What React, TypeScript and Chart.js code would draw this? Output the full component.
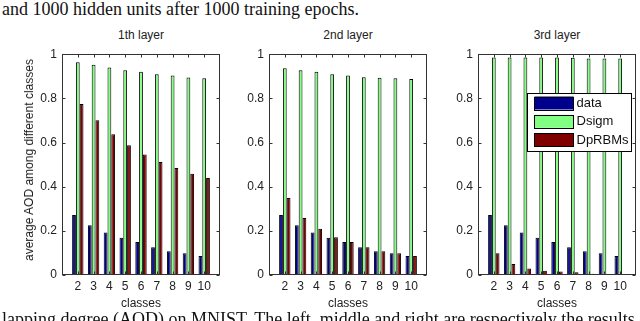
import React, { useEffect, useRef } from "react";
import { Chart, registerables } from "chart.js";

Chart.register(...registerables);

// ---- data ----
const classes = [2, 3, 4, 5, 6, 7, 8, 9, 10];
const classLabels = ["2", "3", "4", "5", "6", "7", "8", "9", "10"];
const yTickValues = [0, 0.2, 0.4, 0.6, 0.8, 1];
const yTickLabels = ["0", "0.2", "0.4", "0.6", "0.8", "1"];
const seriesNames = ["data", "Dsigm", "DpRBMs"];
const layerTitles = ["1th layer", "2nd layer", "3rd layer"];

const dataAOD = [0.272, 0.225, 0.193, 0.169, 0.149, 0.126, 0.108, 0.099, 0.086];

const dsigm1 = [0.963, 0.952, 0.94, 0.927, 0.92, 0.909, 0.904, 0.895, 0.891];
const dprbms1 = [0.774, 0.701, 0.638, 0.588, 0.546, 0.512, 0.485, 0.458, 0.439];

const dsigm2 = [0.936, 0.927, 0.92, 0.909, 0.904, 0.896, 0.893, 0.891, 0.888];
const dprbms2 = [0.349, 0.258, 0.209, 0.171, 0.149, 0.126, 0.108, 0.099, 0.086];

const dsigm3 = [0.985, 0.985, 0.985, 0.985, 0.985, 0.984, 0.98, 0.98, 0.98];
const dprbms3 = [0.098, 0.05, 0.029, 0.019, 0.016, 0.012, 0.006, 0.004, 0.004];

const panels = [
  [dataAOD, dsigm1, dprbms1],
  [dataAOD, dsigm2, dprbms2],
  [dataAOD, dsigm3, dprbms3],
];

const colors = ["#00008f", "#80ff80", "#800000"];

const topCaption = "and 1000 hidden units after 1000 training epochs.";
const bottomCaption =
  "lapping degree (AOD) on MNIST. The left, middle and right are respectively the results of the";
const yAxisTitle = "average AOD among different classes";
const xAxisTitle = "classes";

// ---- layout ----
const FRAME_LEFTS = [62, 269, 478];
const FRAME_W = 158;
const FRAME_TOP = 47;
const FRAME_BOTTOM = 275;
const YW = 40;
const XH = 22;
const PAD_T = 5;
const PAD_R = 5;
const SANS = '"Liberation Sans", Arial, Helvetica, sans-serif';
const SERIF = '"Liberation Serif", "Times New Roman", serif';
const TEXT = "#222";
const AXIS = "#333";

const framePlugin = {
  id: "matlabFrame",
  afterDatasetsDraw(chart: any) {
    const { ctx, chartArea: a, scales } = chart;
    const l = Math.round(a.left) + 0.5;
    const r = Math.round(a.right) - 0.5;
    const t = Math.round(a.top) + 0.5;
    const b = Math.round(a.bottom) - 0.5;
    ctx.save();
    ctx.strokeStyle = AXIS;
    ctx.lineWidth = 1;
    ctx.strokeRect(l, t, r - l, b - t);
    ctx.beginPath();
    yTickValues.forEach((v) => {
      const py = Math.round(scales.y.getPixelForValue(v)) + 0.5;
      ctx.moveTo(l, py);
      ctx.lineTo(l + 3, py);
      ctx.moveTo(r, py);
      ctx.lineTo(r - 3, py);
    });
    classes.forEach((c) => {
      const px = Math.round(scales.x.getPixelForValue(c)) + 0.5;
      ctx.moveTo(px, t);
      ctx.lineTo(px, t + 3);
      ctx.moveTo(px, b);
      ctx.lineTo(px, b - 3);
    });
    ctx.stroke();
    ctx.restore();
  },
};

const legendPlugin = {
  id: "matlabLegend",
  afterDraw(chart: any) {
    const { ctx, chartArea: a } = chart;
    const bx = Math.round(a.left) + 49.5;
    const by = Math.round(a.top) + 39.5;
    const bw = 104;
    const bh = 58;
    ctx.save();
    ctx.fillStyle = "#fff";
    ctx.fillRect(bx, by, bw, bh);
    ctx.strokeStyle = "#000";
    ctx.lineWidth = 1;
    ctx.strokeRect(bx, by, bw, bh);
    ctx.font = `13px ${SANS}`;
    ctx.textBaseline = "middle";
    ctx.textAlign = "left";
    seriesNames.forEach((name, i) => {
      const sy = by + 3 + i * 18.3;
      ctx.fillStyle = colors[i];
      ctx.fillRect(bx + 7, sy, 39, 13);
      ctx.strokeStyle = "#000";
      ctx.strokeRect(bx + 7, Math.round(sy) + 0.5, 39, 13);
      ctx.fillStyle = "#111";
      ctx.fillText(name, bx + 49, sy + 7);
    });
    ctx.restore();
  },
};

function BarPanel({ idx }: { idx: number }) {
  const ref = useRef<HTMLCanvasElement>(null);
  const width = YW + FRAME_W + PAD_R;
  const height = PAD_T + (FRAME_BOTTOM - FRAME_TOP) + XH;

  useEffect(() => {
    const canvas = ref.current;
    if (!canvas) return;
    const series = panels[idx];
    const chart = new Chart(canvas, {
      type: "bar",
      data: {
        datasets: series.map((vals, i) => ({
          label: seriesNames[i],
          data: classes.map((c, j) => ({ x: c, y: vals[j] })),
          backgroundColor: colors[i],
          borderColor: "#000",
          borderWidth: 1,
          borderSkipped: false,
          categoryPercentage: 0.72,
          barPercentage: 1,
        })),
      } as any,
      options: {
        animation: false,
        responsive: false,
        devicePixelRatio: 1,
        layout: { padding: { top: PAD_T, right: PAD_R, left: 0, bottom: 0 } },
        plugins: {
          legend: { display: false },
          tooltip: { enabled: false },
          title: { display: false },
        },
        scales: {
          x: {
            type: "linear",
            min: 1,
            max: 11,
            offset: false,
            grid: { display: false, drawTicks: false },
            border: { display: false },
            afterBuildTicks: (s: any) => {
              s.ticks = classes.map((v) => ({ value: v }));
            },
            ticks: {
              autoSkip: false,
              maxRotation: 0,
              padding: 4,
              color: TEXT,
              font: { family: SANS, size: 12 },
              callback: (v: any) => {
                const k = classes.indexOf(Number(v));
                return k >= 0 ? classLabels[k] : "";
              },
            },
            afterFit: (s: any) => {
              s.height = XH;
            },
          },
          y: {
            min: 0,
            max: 1,
            grid: { display: false, drawTicks: false },
            border: { display: false },
            afterBuildTicks: (s: any) => {
              s.ticks = yTickValues.map((v) => ({ value: v }));
            },
            ticks: {
              padding: 5,
              color: TEXT,
              font: { family: SANS, size: 12 },
              callback: (v: any) => {
                const k = yTickValues.findIndex((t) => Math.abs(t - Number(v)) < 1e-6);
                return k >= 0 ? yTickLabels[k] : "";
              },
            },
            afterFit: (s: any) => {
              s.width = YW;
            },
          },
        },
      } as any,
      plugins: idx === 2 ? [framePlugin, legendPlugin] : [framePlugin],
    });
    return () => chart.destroy();
  }, [idx]);

  return (
    <canvas
      ref={ref}
      width={width}
      height={height}
      style={{
        position: "absolute",
        left: FRAME_LEFTS[idx] - YW,
        top: FRAME_TOP - PAD_T,
        width,
        height,
      }}
    />
  );
}

export default function App() {
  return (
    <div
      style={{
        position: "fixed",
        left: 0,
        top: 0,
        width: 640,
        height: 321,
        overflow: "hidden",
        background: "#fff",
      }}
    >
      <div
        style={{
          position: "absolute",
          left: 2,
          top: 0,
          font: `18px ${SERIF}`,
          lineHeight: "18px",
          whiteSpace: "nowrap",
          color: "#111",
        }}
      >
        {topCaption}
      </div>
      {layerTitles.map((t, i) => (
        <div
          key={t}
          style={{
            position: "absolute",
            left: FRAME_LEFTS[i] + FRAME_W / 2,
            top: 29,
            transform: "translateX(-50%)",
            font: `12px ${SANS}`,
            lineHeight: "12px",
            whiteSpace: "nowrap",
            color: TEXT,
          }}
        >
          {t}
        </div>
      ))}
      {[0, 1, 2].map((i) => (
        <BarPanel key={i} idx={i} />
      ))}
      {[0, 1, 2].map((i) => (
        <div
          key={"xl" + i}
          style={{
            position: "absolute",
            left: FRAME_LEFTS[i] + FRAME_W / 2,
            top: 297,
            transform: "translateX(-50%)",
            font: `12px ${SANS}`,
            lineHeight: "12px",
            whiteSpace: "nowrap",
            color: TEXT,
          }}
        >
          {xAxisTitle}
        </div>
      ))}
      <div
        style={{
          position: "absolute",
          left: 29,
          top: 160,
          transform: "translate(-50%, -50%) rotate(-90deg)",
          font: `12px ${SANS}`,
          lineHeight: "12px",
          whiteSpace: "nowrap",
          color: TEXT,
        }}
      >
        {yAxisTitle}
      </div>
      <div
        style={{
          position: "absolute",
          left: 2,
          top: 310,
          font: `18px ${SERIF}`,
          lineHeight: "18px",
          whiteSpace: "nowrap",
          color: "#111",
        }}
      >
        {bottomCaption}
      </div>
    </div>
  );
}
